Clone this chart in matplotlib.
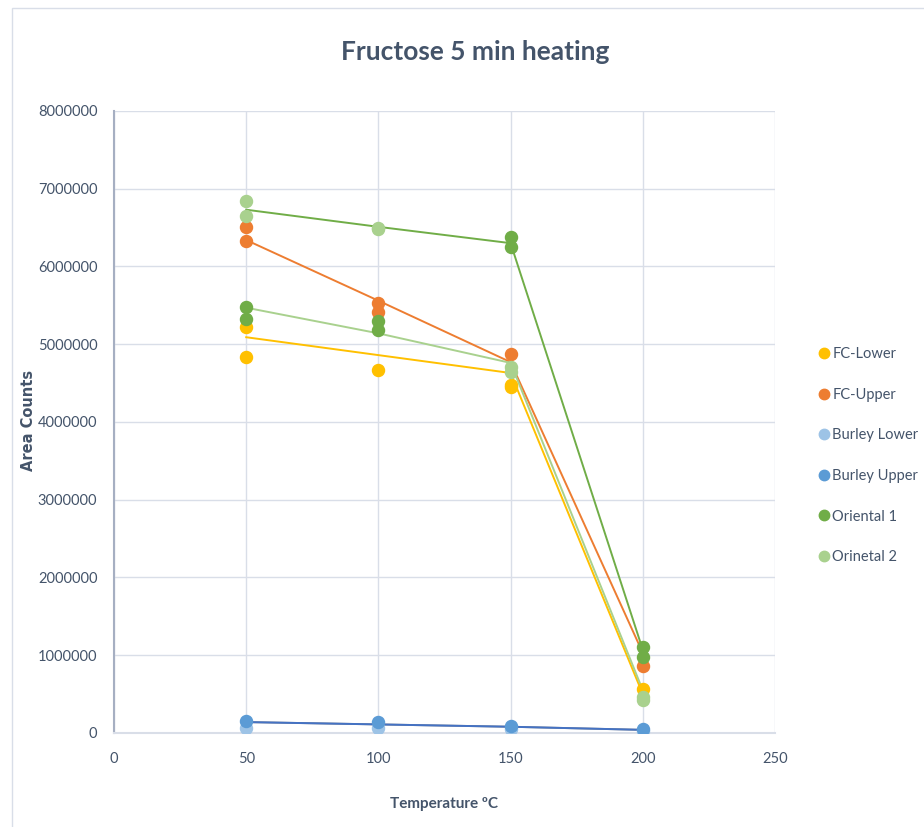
import numpy as np
import matplotlib.pyplot as plt
import matplotlib.lines as mlines
import matplotlib.patches as mpatches

plt.rcParams['font.family'] = ['Lato', 'DejaVu Sans']

# 温度
temps = [50, 100, 150, 200]

# 每个温度下的重复测量点
fc_lower_x = [50, 50, 100, 150, 150, 200]
fc_lower_y = [5220000, 4840000, 4670000, 4470000, 4450000, 570000]
fc_upper_x = [50, 50, 100, 100, 150, 200]
fc_upper_y = [6510000, 6330000, 5530000, 5410000, 4870000, 860000]
burley_lower_x = [50, 100, 150, 200]
burley_lower_y = [60000, 60000, 50000, 30000]
burley_upper_x = [50, 100, 150, 200]
burley_upper_y = [150000, 140000, 90000, 50000]
oriental1_x = [50, 50, 100, 100, 150, 150, 200, 200]
oriental1_y = [5480000, 5320000, 5300000, 5180000, 6380000, 6250000, 1100000, 980000]
oriental2_x = [50, 50, 100, 100, 150, 150, 200, 200]
oriental2_y = [6840000, 6650000, 6500000, 6480000, 4710000, 4640000, 460000, 430000]

# 连线（平均值）
fc_lower_line = [5090000, 4860000, 4630000, 500000]
fc_upper_line = [6340000, 5560000, 4770000, 1030000]
burley_lower_line = [140000, 110000, 80000, 40000]
burley_upper_line = [140000, 110000, 80000, 40000]
dark_green_line = [6730000, 6510000, 6300000, 1070000]
light_green_line = [5470000, 5140000, 4760000, 550000]

names = ['FC-Lower', 'FC-Upper', 'Burley Lower', 'Burley Upper', 'Oriental 1', 'Orinetal 2']
colors = ['#FFC000', '#ED7D31', '#9DC3E6', '#5B9BD5', '#70AD47', '#A9D18E']
text_color = '#44546A'

fig = plt.figure(figsize=(9.24, 8.27), dpi=100)
ax = fig.add_axes([0.1234, 0.1137, 0.7153, 0.7521])

# 外框
fig.patches.append(mpatches.Rectangle((0.013, -0.01), 1.0, 1.0, transform=fig.transFigure,
                                      fill=False, edgecolor='#D9DEE8', linewidth=1.0))

# 线
ax.plot(temps, burley_lower_line, color='#8C8C8C', lw=1.4, zorder=2)
ax.plot(temps, burley_upper_line, color='#4472C4', lw=1.4, zorder=2)
ax.plot(temps, fc_lower_line, color=colors[0], lw=1.4, zorder=2)
ax.plot(temps, fc_upper_line, color=colors[1], lw=1.4, zorder=2)
ax.plot(temps, light_green_line, color=colors[5], lw=1.4, zorder=2)
ax.plot(temps, dark_green_line, color=colors[4], lw=1.4, zorder=2)

# 点
ax.scatter(fc_lower_x, fc_lower_y, s=75, color=colors[0], zorder=3)
ax.scatter(fc_upper_x, fc_upper_y, s=75, color=colors[1], zorder=3)
ax.scatter(burley_lower_x, burley_lower_y, s=75, color=colors[2], zorder=3)
ax.scatter(burley_upper_x, burley_upper_y, s=75, color=colors[3], zorder=3)
ax.scatter(oriental1_x, oriental1_y, s=75, color=colors[4], zorder=3)
ax.scatter(oriental2_x, oriental2_y, s=75, color=colors[5], zorder=3)

ax.set_xlim(0, 250)
ax.set_ylim(0, 8000000)
ax.set_xticks([0, 50, 100, 150, 200, 250])
ax.set_yticks(np.arange(0, 8000001, 1000000))
ax.set_yticklabels([str(int(v)) for v in np.arange(0, 8000001, 1000000)])
ax.grid(True, color='#D9DEE8', lw=1.0, zorder=0)
ax.set_axisbelow(True)
for s in ['top', 'right']:
    ax.spines[s].set_visible(False)
ax.spines['left'].set_color('#A6AFC2')
ax.spines['bottom'].set_color('#D9DEE8')
ax.spines['left'].set_linewidth(1.5)
ax.spines['bottom'].set_linewidth(1.5)
ax.tick_params(length=0, labelsize=10.5, colors=text_color)
ax.tick_params(axis='y', pad=12)
ax.tick_params(axis='x', pad=14)

ax.set_xlabel('Temperature ºC', fontsize=11, fontweight='bold', color=text_color)
ax.xaxis.set_label_coords(0.50, -0.103)
ax.set_ylabel('Area Counts', fontsize=10.5, fontweight='bold', color=text_color,
              family='DejaVu Sans')
ax.yaxis.set_label_coords(-0.118, 0.503)
fig.text(0.514, 0.937, 'Fructose 5 min heating', fontsize=19, fontweight='bold',
         color=text_color, ha='center', va='center')

# 图例
handles = [mlines.Line2D([], [], color=c, marker='o', linestyle='none', markersize=7.5, label=n)
           for c, n in zip(colors, names)]
leg = fig.legend(handles=handles, loc='upper left', bbox_to_anchor=(0.888, 0.58), frameon=False,
                 fontsize=10.5, labelspacing=1.82, handlelength=0.5, handletextpad=0.3,
                 borderpad=0, borderaxespad=0)
for t in leg.get_texts():
    t.set_color(text_color)

fig.savefig('out.png', dpi=100)
